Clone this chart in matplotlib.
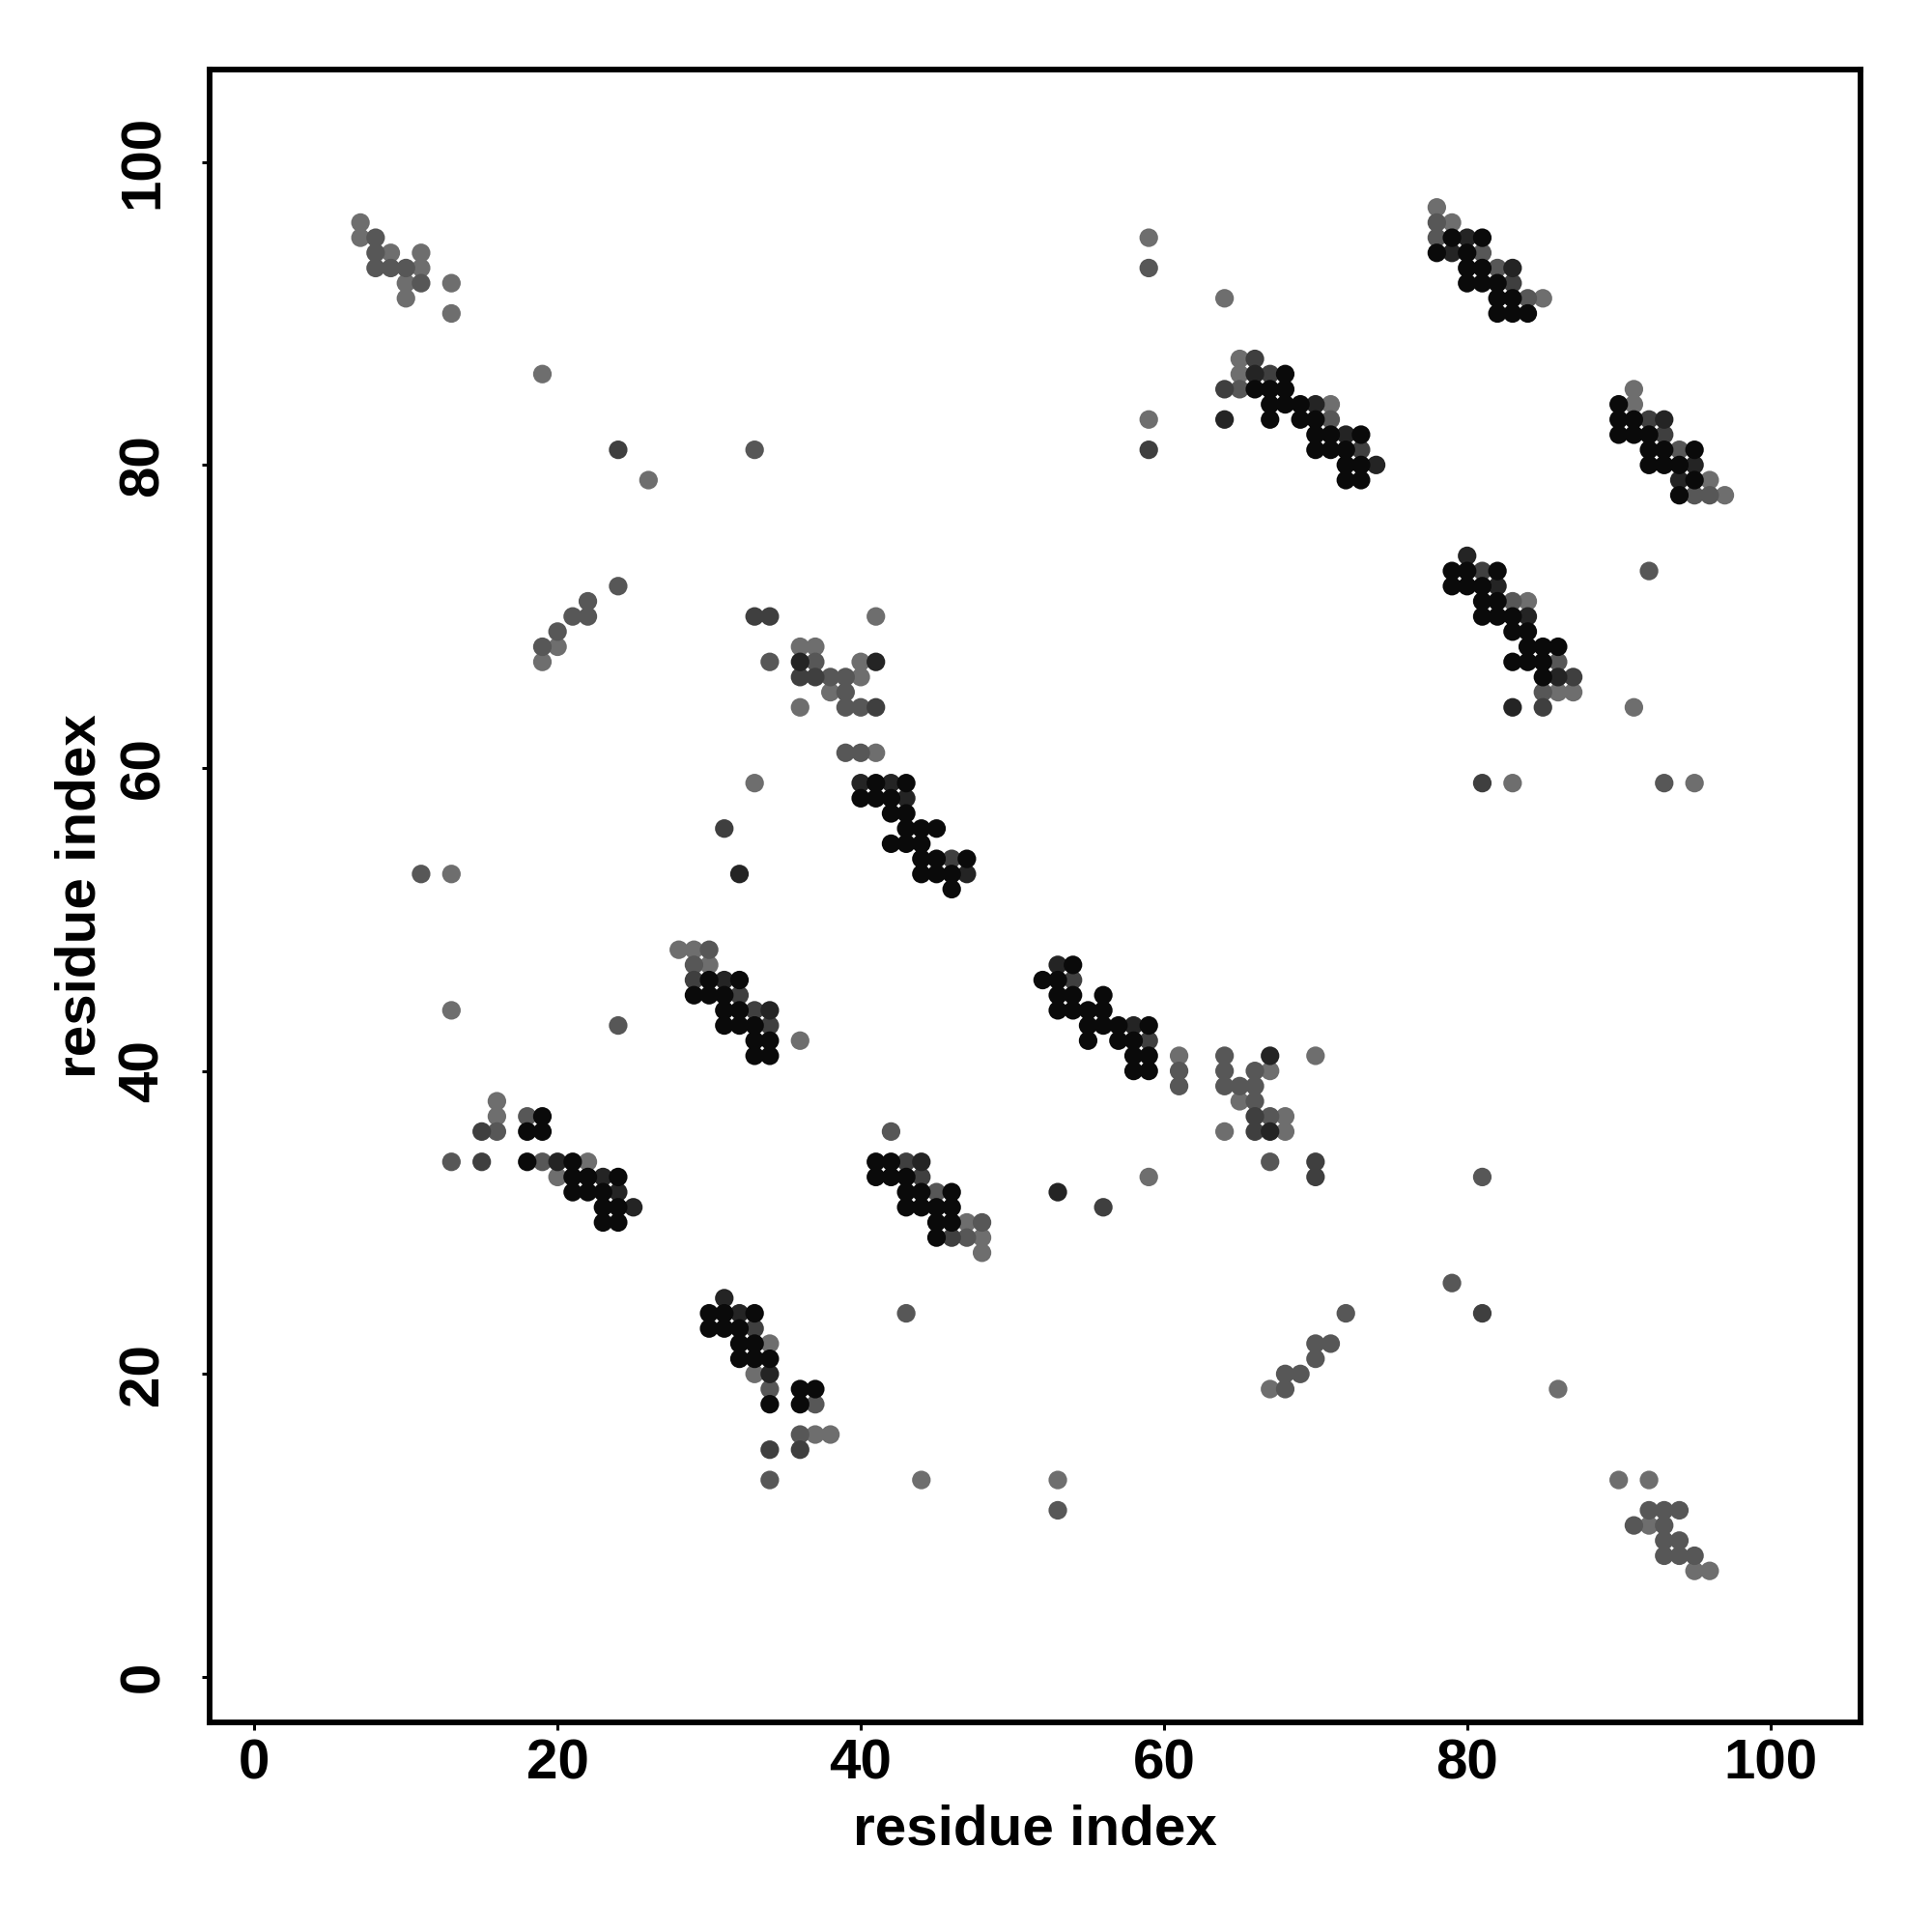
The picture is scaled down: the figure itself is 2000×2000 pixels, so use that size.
import matplotlib
matplotlib.use("Agg")
import matplotlib.pyplot as plt

# Contact map: residue pairs (i, j) grouped by gray level (0 = darkest)
lvl0_i = [30,32,29,30,31,31,32,31,32,33,33,34,33,34,19,18,19,
          18,21,21,22,24,21,22,23,23,24,23,24,
          30,31,33,30,31,32,32,33,32,33,34,34,36,37,36,
          41,42,41,42,43,43,44,46,43,44,45,46,45,46,45,
          41,43,40,41,42,42,43,43,44,45,42,43,44,44,45,47,44,45,46,46,
          54,52,53,53,54,56,53,54,55,56,55,56,57,59,55,57,58,58,59,58,59,
          66,67,67,67,68,68,68,69,69,
          79,81,78,80,80,81,80,81,82,82,83,82,83,84,
          70,70,71,73,70,71,72,72,73,72,73,
          90,90,91,90,91,92,92,93,95,92,93,94,95,94,
          79,80,82,79,80,81,81,82,81,82,83,83,84,84,85,86,
          83,84,85,85]
lvl0_j = [46,46,45,45,45,44,44,43,43,43,42,42,41,41,37,36,36,
          34,34,33,33,33,32,32,32,31,31,30,30,
          24,24,24,23,23,23,22,22,21,21,21,18,19,19,18,
          34,34,33,33,33,32,32,32,31,31,31,31,30,30,29,
          59,59,58,58,58,57,57,56,56,56,55,55,55,54,54,54,53,53,53,52,
          47,46,46,45,45,45,44,44,44,44,43,43,43,43,42,42,42,41,41,40,40,
          85,85,84,83,86,85,84,84,83,
          95,95,94,94,93,93,92,92,92,91,91,90,90,90,
          83,82,82,82,81,81,81,80,80,79,79,
          84,83,83,82,82,82,81,81,81,80,80,80,79,78,
          73,73,73,72,72,72,71,71,70,70,70,69,69,68,68,68,
          67,67,67,66]

lvl1_i = [31,34,32,36,20,23,24,25,31,32,34,44,53,40,42,43,47,41,
          53,58,67,67,64,66,80,79,83,70,72,74,93,95,94,80,82,84,86,83]
lvl1_j = [46,44,53,67,34,33,32,31,25,24,20,34,32,59,59,58,53,67,
          47,43,41,36,83,86,95,94,93,84,82,80,83,80,79,74,72,70,66,64]

lvl2_i = [24,33,34,36,37,31,29,32,33,34,15,15,33,34,36,43,44,46,56,
          41,46,54,59,66,66,59,64,66,67,83,73,92,93,81,87,85,81,70,70,81]
lvl2_j = [81,70,70,66,66,56,46,45,44,43,36,34,23,15,15,34,33,29,31,
          64,54,46,42,37,36,81,85,87,86,92,81,83,82,73,66,64,59,34,33,24]

lvl3_i = [8,8,8,9,10,11,33,24,22,21,22,20,19,
          34,37,11,24,30,29,16,18,13,19,37,36,34,34,
          42,45,48,47,67,43,53,68,69,68,
          79,72,70,71,70,92,93,94,91,93,93,94,93,94,95,
          38,39,39,39,40,39,40,
          61,61,64,64,66,64,65,66,66,67,59,65,
          78,78,81,82,84,71,94,95,96,92,83,86,85,93,81]
lvl3_j = [95,94,93,93,93,92,81,72,71,70,70,69,68,
          67,67,53,43,48,47,36,37,34,34,18,16,19,13,
          36,32,30,29,34,24,11,20,20,19,
          26,24,22,22,21,11,11,11,10,10,9,9,8,8,8,
          66,66,65,64,64,61,61,
          40,39,41,40,40,39,39,39,38,37,93,85,
          96,95,94,93,91,83,81,78,78,73,71,67,65,59,33]

lvl4_i = [7,7,9,11,11,10,13,10,13,19,26,20,36,37,
          19,36,33,13,13,28,29,30,36,16,16,
          22,20,34,33,37,38,47,48,48,59,44,53,67,
          86,90,92,92,95,96,40,40,38,41,61,67,65,68,64,68,70,
          59,64,59,41,65,65,78,79,85,71,91,91,96,97,84,86,87,91,83,95]
lvl4_j = [96,95,94,94,93,92,92,91,90,86,79,68,68,68,
          67,64,59,53,44,48,48,47,42,38,37,
          34,33,22,20,16,16,30,29,28,33,13,13,19,
          19,13,13,10,7,7,67,66,65,61,41,40,38,37,36,36,41,
          95,91,83,70,86,87,97,96,91,84,85,84,79,78,71,65,65,64,59,59]

levels = [
    (lvl4_i, lvl4_j, "#6e6e6e"),
    (lvl3_i, lvl3_j, "#575757"),
    (lvl2_i, lvl2_j, "#3f3f3f"),
    (lvl1_i, lvl1_j, "#242424"),
    (lvl0_i, lvl0_j, "#0a0a0a"),
]

ticks = [0, 20, 40, 60, 80, 100]

plt.rcParams["font.family"] = ["Liberation Sans", "DejaVu Sans"]
plt.rcParams["font.weight"] = "bold"

fig = plt.figure(figsize=(10, 10), dpi=200)
ax = fig.add_axes([0.1085, 0.1085, 0.8545, 0.8555])

for xi, yj, col in levels:
    ax.scatter(xi, yj, s=48, c=col, edgecolors="none", zorder=3)

ax.set_xlim(-2.95, 105.95)
ax.set_ylim(-3.0, 106.1)
ax.set_xticks(ticks)
ax.set_yticks(ticks)
ax.set_xticklabels([str(t) for t in ticks], fontsize=21, fontweight="bold")
ax.set_yticklabels([str(t) for t in ticks], fontsize=21, fontweight="bold",
                   rotation=90, va="center")
ax.tick_params(axis="both", direction="out", length=2.8, width=1.1, color="black")
ax.tick_params(axis="x", pad=3)
ax.tick_params(axis="y", pad=12)
for sp in ax.spines.values():
    sp.set_linewidth(2.1)
    sp.set_color("black")

ax.set_xlabel("residue index", fontsize=21, fontweight="bold", labelpad=5)
ax.set_ylabel("residue index", fontsize=21, fontweight="bold", labelpad=4)

fig.savefig("out.png", dpi=200, facecolor="white")
